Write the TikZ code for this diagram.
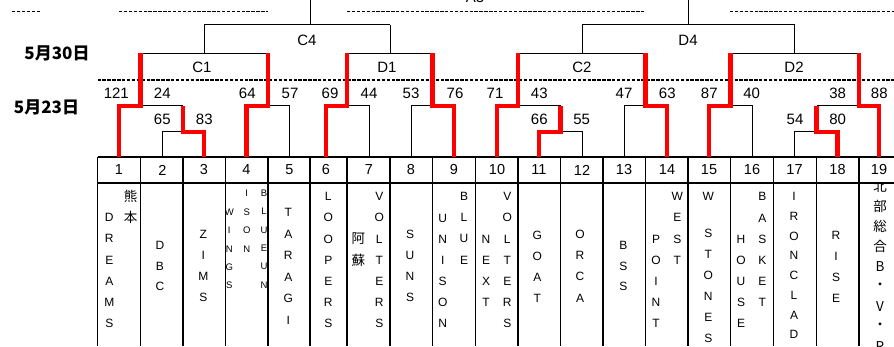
\documentclass[tikz,border=0pt]{standalone}
\usepackage{fontspec}
\setmainfont{Liberation Sans}
\newfontfamily\jpfont{Noto Sans CJK JP}
\usetikzlibrary{calc}
\definecolor{WinRed}{HTML}{FF0000}

% stacked (vertical) team name: [style]{name}{x}{first y}{step}{letters}
\newcommand\vtext[6][namechar]{%
  \foreach \ch [count=\k from 0] in {#6}{\node[#1] (#2\k) at (#3,#4+#5*\k) {\ch};}}

\begin{document}
\begin{tikzpicture}[x=1pt,y=-1pt,
  bracket/.style={line width=1pt},
  winner/.style={WinRed,line width=4.3pt},
  grid/.style={line width=1.3pt},
  dots/.style={line width=1.3pt,dash pattern=on 3.4pt off 1.5pt},
  score/.style={font=\fontsize{15}{15}\selectfont,inner sep=0pt},
  teamno/.style={font=\fontsize{14.5}{14.5}\selectfont,inner sep=0pt},
  roundlab/.style={font=\fontsize{15}{15}\selectfont,inner sep=0pt},
  datelab/.style={font=\jpfont\bfseries\fontsize{17}{17}\selectfont,inner sep=0pt},
  namechar/.style={font=\fontsize{12}{12}\selectfont,inner sep=0pt},
  smallchar/.style={font=\fontsize{9.5}{9.5}\selectfont,inner sep=0pt},
  jpchar/.style={font=\jpfont\fontsize{13.5}{13.5}\selectfont,inner sep=0pt}]
\useasboundingbox (0,0) rectangle (894,346);
\clip (0,0) rectangle (894,346);

% columns, borders and levels
\foreach \i/\x in {1/119,2/162.5,3/204,4/246.5,5/289.5,6/326,7/369,8/411,9/454,10/497,
  11/539,12/582,13/624,14/667,15/709,16/752,17/794.5,18/837.5,19/879}
  \coordinate (t\i) at (\x,157);
\foreach \i/\x in {0/97.5,1/140.5,2/183,3/225.5,4/268,5/310,6/347,7/390,8/432.5,9/475.5,
  10/518,11/560.5,12/603,13/645.5,14/688,15/730.5,16/773.5,17/816.5,18/859,19/901.5}
  \coordinate (b\i) at (\x,157);
\coordinate (L1) at (0,131.7);
\coordinate (L2) at (0,105.7);
\coordinate (L3) at (0,53.3);
\coordinate (L4) at (0,24.7);
\coordinate (Ltop) at (0,-5);

% dotted day lines
\draw[dots] (12,11.7) -- (41,11.7) (119,11.7) -- (268,11.7) (347,11.7) -- (645,11.7) (730,11.7) -- (894,11.7);
\draw[dots] (b0|-0,80) -- (894,80);

% table
\draw[grid] (b0) -- (b19) (b0|-0,183) -- (b19|-0,183);
\foreach \i in {0,...,19}\draw[grid] (b\i) -- (b\i|-0,346);
\foreach \i in {1,...,19}\node[teamno] (n\i) at (t\i|-0,170) {\i};

% bracket
\draw[bracket] (t2) |- (t3|-L1) -- (t3) (b2|-L1) -- (b2|-L2);
\draw[bracket] (t11) |- (t12|-L1) -- (t12) (b11|-L1) -- (b11|-L2);
\draw[bracket] (t17) |- (t18|-L1) -- (t18) (b17|-L1) -- (b17|-L2);
\draw[bracket] (t1) |- (b2|-L2) (b1|-L2) -- (b1|-L3);
\draw[bracket] (t10) |- (b11|-L2) (b10|-L2) -- (b10|-L3);
\draw[bracket] (t19) |- (b17|-L2) (b18|-L2) -- (b18|-L3);
\foreach \a/\b/\m in {4/5/4,6/7/6,8/9/8,13/14/13,15/16/15}
  \draw[bracket] (t\a) |- (t\b|-L2) -- (t\b) (b\m|-L2) -- (b\m|-L3);
\draw[bracket] (b1|-L3) -- (b4|-L3) (t3|-L3) -- (t3|-L4);
\draw[bracket] (b6|-L3) -- (b8|-L3) (b7|-L3) -- (b7|-L4);
\draw[bracket] (b10|-L3) -- (b13|-L3) (t12|-L3) -- (t12|-L4);
\draw[bracket] (b15|-L3) -- (b18|-L3) (t17|-L3) -- (t17|-L4);
\draw[bracket] (t3|-L4) -- (b7|-L4) (b5|-L4) -- (b5|-Ltop);
\draw[bracket] (t12|-L4) -- (t17|-L4) (b14|-L4) -- (b14|-Ltop);

% winners
\foreach \a/\b/\lo/\hi in {1/1/L2/L3,3/2/L1/L2,4/4/L2/L3,6/6/L2/L3,9/8/L2/L3,10/10/L2/L3,
  11/11/L1/L2,14/13/L2/L3,15/15/L2/L3,18/17/L1/L2,19/18/L2/L3}
  \draw[winner] (t\a) |- (b\b|-\lo) -- (b\b|-\hi);

% scores
\foreach \x/\y/\s in {116.3/93.3/121,162.3/93.3/24,162.3/119.3/65,204.3/119.3/83,247.3/93.3/64,
  290/93.3/57,330/93.3/69,369/93.3/44,411/93.3/53,455/93.3/76,495/93.3/71,539.3/93.3/43,
  539.3/119.3/66,581.7/119.3/55,624/93.3/47,667.3/93.3/63,709.3/93.3/87,751.7/93.3/40,
  795/119.3/54,837.7/119.3/80,837.7/93.3/38,879.3/93.3/88}
  \node[score] (s\s) at (\x,\y) {\s};

% round labels
\node[roundlab] (lA3) at (475,-3) {A3};
\node[roundlab] (lC4) at (307,40) {C4};
\node[roundlab] (lD4) at (688,40) {D4};
\node[roundlab] (lC1) at (202,67) {C1};
\node[roundlab] (lD1) at (387,67) {D1};
\node[roundlab] (lC2) at (582,67) {C2};
\node[roundlab] (lD2) at (794,67) {D2};
\node[datelab] (d530) at (57,53) {5月30日};
\node[datelab] (d523) at (46.5,107) {5月23日};

% team names
\vtext[jpchar]{kum}{130.7}{196.7}{21}{熊,本}
\vtext{dre}{109.3}{217.7}{21.1}{D,R,E,A,M,S}
\vtext{dbc}{160}{245}{20.9}{D,B,C}
\vtext{zim}{203.3}{234}{21.2}{Z,I,M,S}
\begin{scope}
\clip (226.2,184) rectangle (267.4,346);
\vtext[smallchar]{win}{229.3}{212.3}{18.3}{W,I,N,G,S}
\vtext[smallchar]{iso}{246.7}{193.3}{18.5}{I,S,O,N}
\vtext[smallchar]{blu}{264}{193.3}{18.3}{B,L,U,E,U,N}
\end{scope}
\vtext{tar}{288.3}{212.7}{21.5}{T,A,R,A,G,I}
\vtext{loo}{328.3}{196.7}{21.1}{L,O,O,P,E,R,S}
\vtext[jpchar]{aso}{358.3}{238.3}{21.7}{阿,蘇}
\vtext{vola}{379.3}{196.7}{21.1}{V,O,L,T,E,R,S}
\vtext{sun}{410}{234}{21.2}{S,U,N,S}
\vtext{uni}{442.7}{218.3}{21}{U,N,I,S,O,N}
\vtext{blue}{464}{196.7}{21.1}{B,L,U,E}
\vtext{nex}{486}{239.3}{21.1}{N,E,X,T}
\vtext{volb}{507.3}{196.7}{21.1}{V,O,L,T,E,R,S}
\vtext{goa}{537.3}{235}{21.1}{G,O,A,T}
\vtext{orc}{580}{234}{21.4}{O,R,C,A}
\vtext{bss}{623.3}{245.7}{20.5}{B,S,S}
\vtext{poi}{656}{239.3}{21}{P,O,I,N,T}
\vtext{wes}{677.3}{196.7}{21.1}{W,E,S,T}
\vtext{wst}{708.3}{196.7}{21}{W}
\vtext{sto}{708.3}{233.3}{21}{S,T,O,N,E,S}
\vtext{hou}{741}{239.3}{21}{H,O,U,S,E}
\vtext{bas}{762.3}{196.7}{21.2}{B,A,S,K,E,T}
\vtext{iro}{794}{196.7}{19.7}{I,R,O,N,C,L,A,D}
\vtext{ris}{836}{235}{21.1}{R,I,S,E}
\begin{scope}
\clip (859.7,184) rectangle (894,346);
\vtext[jpchar]{hok}{880}{186.7}{20}{北,部,総,合,B,・,V,・,R}
\end{scope}
\end{tikzpicture}
\end{document}
